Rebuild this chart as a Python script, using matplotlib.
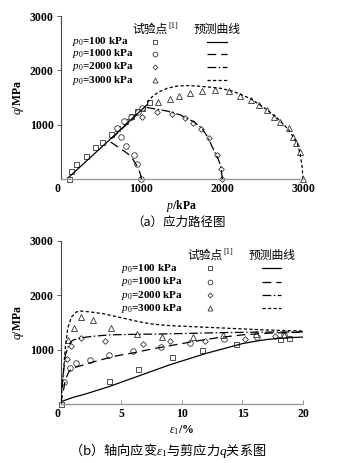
import matplotlib
matplotlib.use("Agg")
import matplotlib.pyplot as plt

plt.rcParams['font.family'] = ['Liberation Serif', 'Noto Sans CJK SC', 'DejaVu Sans']
plt.rcParams['mathtext.fontset'] = 'custom'
plt.rcParams['mathtext.rm'] = 'Liberation Serif'
plt.rcParams['mathtext.it'] = 'Liberation Serif:italic'
plt.rcParams['mathtext.bf'] = 'Liberation Serif:bold'

CJK = ['Noto Sans CJK SC', 'DejaVu Sans']

# (a) stress paths, p in kPa, q in MPa
p_test_100 = [100, 130, 190, 310, 420, 510, 630, 700, 800, 870, 950, 1010, 1100]
q_test_100 = [0, 150, 280, 430, 590, 690, 830, 930, 1070, 1160, 1250, 1310, 1420]
p_test_1000 = [1000, 950, 910, 810, 750, 700, 790, 870, 960, 1010]
q_test_1000 = [0, 270, 440, 600, 770, 930, 1060, 1150, 1240, 1300]
p_test_2000 = [2000, 1980, 1930, 1840, 1740, 1640, 1540, 1380, 1190, 1010]
q_test_2000 = [0, 180, 440, 750, 920, 1030, 1120, 1200, 1230, 1150]
p_test_3000 = [1210, 1350, 1470, 1600, 1750, 1910, 2080, 2220, 2350, 2460, 2550,
               2640, 2720, 2820, 2870, 2910, 2960, 3000]
q_test_3000 = [1420, 1480, 1530, 1580, 1620, 1630, 1620, 1520, 1450, 1370, 1270,
               1150, 1050, 930, 780, 660, 500, 0]

p_pred_100 = [100, 400, 700, 1000, 1080]
q_pred_100 = [30, 440, 850, 1270, 1380]
p_pred_1000 = [1000, 985, 960, 925, 870, 800, 720, 640, 600, 800, 1000]
q_pred_1000 = [0, 100, 200, 290, 420, 500, 580, 660, 700, 980, 1270]
p_pred_2000 = [2000, 1990, 1975, 1950, 1915, 1870, 1830, 1750, 1650, 1480, 1320,
               1170, 1050]
q_pred_2000 = [0, 150, 260, 370, 470, 610, 750, 930, 1050, 1180, 1250, 1290, 1320]
p_pred_3000 = [3000, 2990, 2965, 2930, 2820, 2680, 2530, 2350, 2140, 1980, 1850,
               1700, 1560, 1440, 1320, 1210, 1130, 1060]
q_pred_3000 = [0, 200, 450, 650, 910, 1120, 1300, 1480, 1610, 1670, 1690, 1710,
               1720, 1710, 1670, 1600, 1510, 1380]

# (b) axial strain (%) vs q
e_test_100 = [0, 4.0, 6.4, 9.2, 11.7, 14.5, 18.1, 18.8]
s_test_100 = [0, 430, 640, 870, 990, 1100, 1200, 1210]
e_test_1000 = [0.3, 0.8, 1.3, 2.4, 4.0, 6.0, 8.3, 10.7, 13.5, 16.2, 18.4]
s_test_1000 = [410, 660, 760, 810, 900, 980, 1050, 1120, 1190, 1240, 1270]
e_test_2000 = [0.5, 0.9, 1.7, 3.7, 6.8, 9.0, 11.9, 15.2, 17.7]
s_test_2000 = [830, 1060, 1210, 1150, 1110, 1150, 1160, 1200, 1250]
e_test_3000 = [0.6, 1.1, 1.7, 2.7, 4.2, 6.3, 8.4, 10.9, 13.4, 16.1, 18.4]
s_test_3000 = [1170, 1400, 1600, 1550, 1390, 1290, 1240, 1240, 1270, 1290, 1270]

e_pred_100 = [0, 1, 2, 3, 4, 5, 6, 7, 8, 9, 10, 11, 12, 13, 14, 15, 16, 17, 18, 19, 20]
s_pred_100 = [40, 120, 180, 250, 320, 400, 480, 560, 640, 720, 790, 860, 930, 990,
              1050, 1110, 1150, 1185, 1205, 1220, 1230]
e_pred_1000 = [0, 0.2, 0.4, 0.7, 1.0, 1.6, 2.5, 3.3, 4.5, 6, 7.5, 9, 11, 13, 15, 17, 20]
s_pred_1000 = [0, 200, 450, 600, 660, 700, 760, 810, 880, 940, 1010, 1070, 1150,
               1220, 1270, 1300, 1320]
e_pred_2000 = [0, 0.2, 0.4, 0.7, 1.0, 1.5, 2.5, 4, 6, 8, 10, 13, 16, 20]
s_pred_2000 = [0, 500, 900, 1100, 1170, 1210, 1240, 1270, 1280, 1285, 1295, 1310,
               1320, 1325]
e_pred_3000 = [0, 0.2, 0.4, 0.6, 0.9, 1.3, 1.6, 2.5, 3.5, 4.5, 5.5, 6.5, 7.5, 9, 11,
               14, 17, 20]
s_pred_3000 = [0, 500, 1050, 1400, 1600, 1690, 1710, 1690, 1660, 1610, 1560, 1510,
               1470, 1440, 1420, 1390, 1360, 1340]

series_labels = [r'$p_0$=100 kPa', r'$p_0$=1000 kPa', r'$p_0$=2000 kPa', r'$p_0$=3000 kPa']
markers = ['s', 'o', 'D', '^']
marker_sizes = [3.6, 4.0, 2.9, 4.2]
dashes = [(), (7, 4), (7, 2, 1.2, 2), (2.6, 1.8)]

fig = plt.figure(figsize=(3.5, 4.63), dpi=100)
ax1 = fig.add_axes([0.173, 0.6134, 0.693, 0.352])
ax2 = fig.add_axes([0.173, 0.1274, 0.693, 0.3527])


def draw_series(ax, tests, preds):
    for i, ((xt, yt), (xp, yp)) in enumerate(zip(tests, preds)):
        line, = ax.plot(xp, yp, color='black', lw=0.9, zorder=3)
        if dashes[i]:
            line.set_dashes(dashes[i])
        ax.plot(xt, yt, ls='none', marker=markers[i], ms=marker_sizes[i],
                mfc='white', mec='#333333', mew=0.6, clip_on=False, zorder=2)


def draw_key(ax, x_text, x_mark, x_line, y_head, y_rows):
    ax.text(x_mark - 0.02, y_head, '试验点', transform=ax.transAxes, family=CJK,
            fontsize=8.5, ha='center', va='center')
    ax.text(x_mark + 0.055, y_head + 0.02, '[1]', transform=ax.transAxes,
            fontsize=6, ha='left', va='center')
    ax.text(x_line, y_head, '预测曲线', transform=ax.transAxes, family=CJK,
            fontsize=8.5, ha='center', va='center')
    for i, y in enumerate(y_rows):
        ax.text(x_text, y, series_labels[i], transform=ax.transAxes,
                fontsize=8, fontweight='bold', ha='left', va='center')
        ax.plot([x_mark], [y], transform=ax.transAxes, marker=markers[i],
                ms=marker_sizes[i] * 0.85, mfc='white', mec='#333333', mew=0.6,
                clip_on=False)
        line, = ax.plot([x_line - 0.04, x_line + 0.04], [y, y],
                        transform=ax.transAxes, color='black', lw=0.9)
        if dashes[i]:
            line.set_dashes(dashes[i])


def style_axes(ax):
    for side in ['top', 'right']:
        ax.spines[side].set_visible(False)
    ax.spines['left'].set_color('#444444')
    ax.spines['left'].set_linewidth(0.8)
    ax.spines['bottom'].set_color('#999999')
    ax.spines['bottom'].set_linewidth(1.0)
    ax.tick_params(axis='y', direction='out', length=3, width=0.6, pad=2,
                   labelsize=8.5, color='#444444')
    ax.tick_params(axis='x', direction='in', length=3, width=0.6, pad=3,
                   labelsize=8.5, color='#777777')
    ax.set_ylim(0, 3000)
    ax.set_yticks([1000, 2000, 3000])
    for lab in ax.get_xticklabels() + ax.get_yticklabels():
        lab.set_fontweight('bold')
    ax.get_xticklabels()[0].set_horizontalalignment('right')


draw_series(ax1,
            [(p_test_100, q_test_100), (p_test_1000, q_test_1000),
             (p_test_2000, q_test_2000), (p_test_3000, q_test_3000)],
            [(p_pred_100, q_pred_100), (p_pred_1000, q_pred_1000),
             (p_pred_2000, q_pred_2000), (p_pred_3000, q_pred_3000)])
ax1.set_xlim(0, 3000)
ax1.set_xticks([0, 1000, 2000, 3000])
style_axes(ax1)
ax1.set_ylabel(r'$q$/MPa', fontsize=8.5, fontweight='bold', labelpad=3)
ax1.set_xlabel(r'$p$/kPa', fontsize=8.5, fontweight='bold', labelpad=2)
draw_key(ax1, 0.047, 0.39, 0.645, 0.92, [0.842, 0.768, 0.689, 0.605])

draw_series(ax2,
            [(e_test_100, s_test_100), (e_test_1000, s_test_1000),
             (e_test_2000, s_test_2000), (e_test_3000, s_test_3000)],
            [(e_pred_100, s_pred_100), (e_pred_1000, s_pred_1000),
             (e_pred_2000, s_pred_2000), (e_pred_3000, s_pred_3000)])
ax2.set_xlim(0, 20)
ax2.set_xticks([0, 5, 10, 15, 20])
style_axes(ax2)
ax2.set_ylabel(r'$q$/MPa', fontsize=8.5, fontweight='bold', labelpad=3)
ax2.set_xlabel(r'$\varepsilon_1$/%', fontsize=8.5, fontweight='bold', labelpad=2)
draw_key(ax2, 0.249, 0.616, 0.87, 0.912, [0.831, 0.749, 0.667, 0.586])

fig.text(0.51, 0.52, '（a）应力路径图', family=CJK, fontsize=9,
         ha='center', va='center')
fig.text(0.48, 0.026, r'（b）轴向应变$\varepsilon_1$与剪应力$q$关系图',
         family=CJK, fontsize=9.5, ha='center', va='center')

fig.savefig('out.png', dpi=100, facecolor='white')
